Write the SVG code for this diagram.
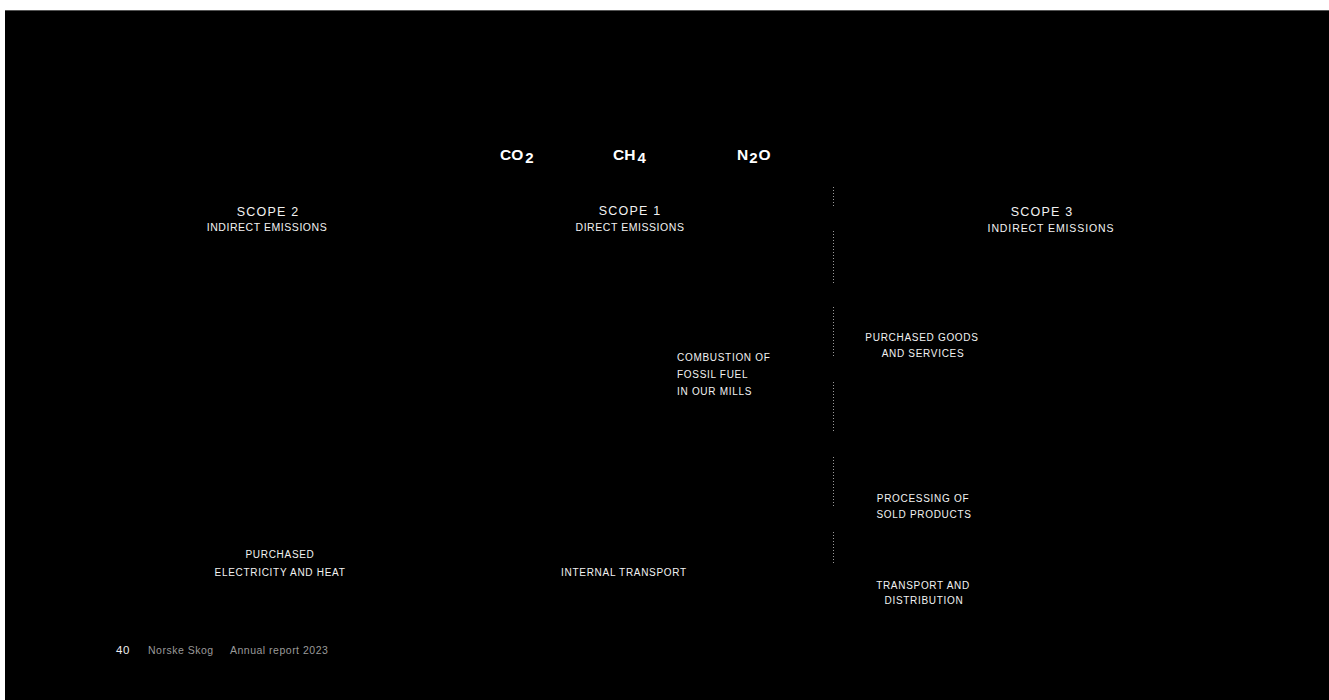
<svg xmlns="http://www.w3.org/2000/svg" width="1329" height="700" viewBox="0 0 1329 700">
<style>
.t{font-family:"Liberation Sans",Arial,sans-serif;fill:#f2f2f2;text-anchor:middle}
.h{font-size:12.5px;letter-spacing:1.2px}
.s{font-size:10.5px;letter-spacing:0.55px}
.l{font-size:10px;letter-spacing:0.7px}
.g{font-family:"Liberation Sans",Arial,sans-serif;fill:#ffffff;font-weight:bold;font-size:15.5px}
.sub{font-size:15px}
.f{font-family:"Liberation Sans",Arial,sans-serif;font-size:10.5px;fill:#9a9a9a;letter-spacing:0.5px}
.dot{stroke:#9a9a9a;stroke-width:1;stroke-dasharray:1 2;fill:none}
</style>
<rect x="0" y="0" width="1329" height="700" fill="#ffffff"/>
<rect x="5" y="10" width="1324" height="690" fill="#000000"/>
<line x1="5" y1="10.5" x2="1329" y2="10.5" stroke="#555" stroke-width="1"/>

<g id="gases">
  <text class="g" x="500" y="160">CO<tspan class="sub" dx="2" dy="3">2</tspan></text>
  <text class="g" x="613" y="160">CH<tspan class="sub" dx="2" dy="3">4</tspan></text>
  <text class="g" x="737" y="160">N<tspan class="sub" dx="1" dy="3">2</tspan><tspan dx="1" dy="-3">O</tspan></text>
</g>

<g id="scope2">
  <text class="t h" x="268" y="216">SCOPE 2</text>
  <text class="t s" x="267" y="231">INDIRECT EMISSIONS</text>
</g>
<g id="scope1">
  <text class="t h" x="630" y="215">SCOPE 1</text>
  <text class="t s" x="630" y="231">DIRECT EMISSIONS</text>
</g>
<g id="scope3">
  <text class="t h" x="1042" y="216">SCOPE 3</text>
  <text class="t s" x="1051" y="232" style="letter-spacing:0.9px">INDIRECT EMISSIONS</text>
</g>

<g id="combustion">
  <text class="t l" x="677" y="361" style="text-anchor:start">COMBUSTION OF</text>
  <text class="t l" x="677" y="378" style="text-anchor:start">FOSSIL FUEL</text>
  <text class="t l" x="677" y="395" style="text-anchor:start">IN OUR MILLS</text>
</g>

<g id="purchased-goods">
  <text class="t l" x="922" y="341">PURCHASED GOODS</text>
  <text class="t l" x="923" y="357">AND SERVICES</text>
</g>
<g id="processing">
  <text class="t l" x="923" y="502">PROCESSING OF</text>
  <text class="t l" x="924" y="518">SOLD PRODUCTS</text>
</g>
<g id="transport-distribution">
  <text class="t l" x="923" y="589">TRANSPORT AND</text>
  <text class="t l" x="924" y="604">DISTRIBUTION</text>
</g>
<g id="purchased-electricity">
  <text class="t l" x="280" y="558">PURCHASED</text>
  <text class="t l" x="280" y="576">ELECTRICITY AND HEAT</text>
</g>
<g id="internal-transport">
  <text class="t l" x="624" y="576">INTERNAL TRANSPORT</text>
</g>

<g id="connectors">
  <line class="dot" x1="833.5" y1="187" x2="833.5" y2="208"/>
  <line class="dot" x1="833.5" y1="231" x2="833.5" y2="283"/>
  <line class="dot" x1="833.5" y1="307" x2="833.5" y2="358"/>
  <line class="dot" x1="833.5" y1="382" x2="833.5" y2="433"/>
  <line class="dot" x1="833.5" y1="457" x2="833.5" y2="508"/>
  <line class="dot" x1="833.5" y1="532" x2="833.5" y2="563"/>
</g>

<g id="footer">
  <text x="116" y="654" style="font-family:'Liberation Sans',Arial,sans-serif;font-size:11.5px;fill:#eeeeee;letter-spacing:0.5px">40</text>
  <text class="f" x="148" y="654">Norske Skog</text>
  <text class="f" x="230" y="654">Annual report 2023</text>
</g>
</svg>
